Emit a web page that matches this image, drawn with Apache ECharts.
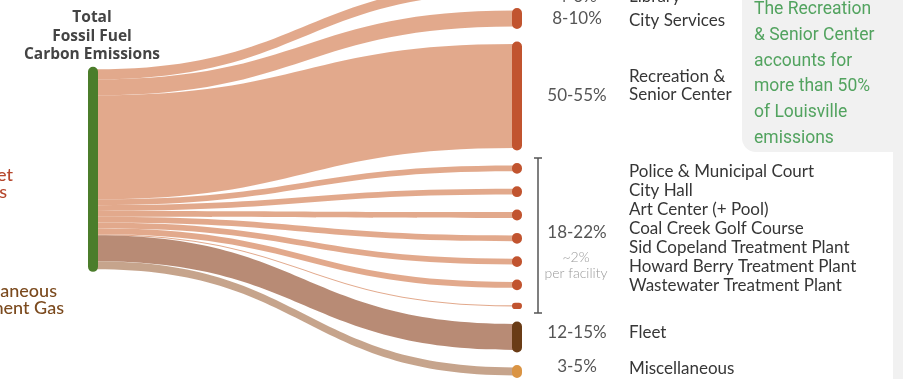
<!DOCTYPE html>
<html>
<head>
<meta charset="utf-8">
<script src="https://cdn.jsdelivr.net/npm/echarts@6/dist/echarts.min.js"></script>
<style>
  html, body { margin: 0; padding: 0; background: #ffffff; }
  #chart { width: 903px; height: 379px; }
</style>
</head>
<body>
<div id="chart"></div>
<script>
// Municipal fossil-fuel carbon emissions by facility (share of total, %)
const sourceName = 'Total Fossil Fuel Carbon Emissions';
const sourceLines = ['Total', 'Fossil Fuel', 'Carbon Emissions'];

const buildingNames = [
  'Library', 'City Services', 'Recreation & Senior Center',
  'Police & Municipal Court', 'City Hall', 'Art Center (+ Pool)',
  'Coal Creek Golf Course', 'Sid Copeland Treatment Plant',
  'Howard Berry Treatment Plant', 'Wastewater Treatment Plant'
];
const buildingShares = [5, 8, 52, 2.9, 2.9, 2.9, 2.9, 2.9, 2.9, 0.6];

const vehicleNames = ['Fleet', 'Miscellaneous'];
const vehicleShares = [13, 4];

const rangeLabels = ['4-6%', '8-10%', '50-55%', '18-22%', '12-15%', '3-5%'];
const perFacilityLines = ['~2%', 'per facility'];
const calloutLines = ['The Recreation', '& Senior Center', 'accounts for', 'more than 50%', 'of Louisville', 'emissions'];
const groupLines = [['Buildings & Street', 'Lights'], ['Fleet & Miscellaneous', 'Equipment Gas']];

// ---- styling ----
const GREEN = '#4b7d2b';
const BUILDING_NODE = '#c1542f';
const FLEET_NODE = '#6a3c16';
const MISC_NODE = '#da9444';
const BUILDING_LINK = '#e0a283';
const FLEET_LINK = '#b3826b';
const MISC_LINK = '#c29d83';

const LAYOUT_TOP = -17;
const LAYOUT_HEIGHT = 392.5;
const NODE_GAP = 17.5;
const SOURCE_LOCAL_Y = 0.22;   // source column sits a little above the band centre

function nodeStyle(c) { return { color: c, borderColor: c }; }

const nodes = [{ name: sourceName, itemStyle: nodeStyle(GREEN), localY: SOURCE_LOCAL_Y }];
buildingNames.forEach(n => nodes.push({ name: n, itemStyle: nodeStyle(BUILDING_NODE) }));
nodes.push({ name: vehicleNames[0], itemStyle: nodeStyle(FLEET_NODE) });
nodes.push({ name: vehicleNames[1], itemStyle: nodeStyle(MISC_NODE) });

const links = [];
buildingNames.forEach((n, i) => links.push({
  source: sourceName, target: n, value: buildingShares[i], lineStyle: { color: BUILDING_LINK }
}));
links.push({ source: sourceName, target: vehicleNames[0], value: vehicleShares[0], lineStyle: { color: FLEET_LINK } });
links.push({ source: sourceName, target: vehicleNames[1], value: vehicleShares[1], lineStyle: { color: MISC_LINK } });

// ---- annotation text ----
const NAME_FONT = '17px Lato, "Noto Sans", sans-serif';
const NAME_COLOR = '#363636';
const RANGE_FONT = '17px Lato, "Noto Sans", sans-serif';
const g = [];

function txt(text, x, y, font, fill, align) {
  g.push({ type: 'text', silent: true, style: {
    text, x, y, font, fill, align: align || 'left', verticalAlign: 'middle'
  }});
}

// callout panel
g.push({ type: 'rect', silent: true, shape: { x: 742, y: -20, width: 170, height: 172, r: [0, 0, 0, 14] }, style: { fill: '#f1f1f1' } });
g.push({ type: 'rect', silent: true, shape: { x: 893, y: 0, width: 12, height: 379 }, style: { fill: '#f1f1f1' } });
calloutLines.forEach((l, i) => txt(l, 754, 10 + i * 25.7, '17.5px Roboto, sans-serif', '#52a35f'));

// source title
sourceLines.forEach((l, i) => txt(l, 92, 18 + i * 18.5, 'bold 15.5px "Open Sans", sans-serif', '#444444', 'center'));

// left group labels (partly outside the frame)
const GROUP_FONT = '500 18px Lato, sans-serif';
txt(groupLines[0][0], 13, 175, GROUP_FONT, '#b5462c', 'right');
txt(groupLines[0][1], 7, 192, GROUP_FONT, '#b5462c', 'right');
txt(groupLines[1][0], 57, 291, GROUP_FONT, '#7b4a1e', 'right');
txt(groupLines[1][1], 64, 308, GROUP_FONT, '#7b4a1e', 'right');

// right-hand names
txt(buildingNames[0], 629, -3, NAME_FONT, NAME_COLOR);
txt(buildingNames[1], 629, 21, NAME_FONT, NAME_COLOR);
txt('Recreation &', 629, 77, NAME_FONT, NAME_COLOR);
txt('Senior Center', 629, 95, NAME_FONT, NAME_COLOR);
buildingNames.slice(3).forEach((n, i) => txt(n, 629, 172 + i * 19, NAME_FONT, NAME_COLOR));
txt(vehicleNames[0], 629, 333, NAME_FONT, NAME_COLOR);
txt(vehicleNames[1], 629, 369, NAME_FONT, NAME_COLOR);

// share ranges
const rangeY = [-3, 19, 96, 233, 333, 367];
rangeLabels.forEach((r, i) => txt(r, 577, rangeY[i], RANGE_FONT, '#555555', 'center'));
txt(perFacilityLines[0], 576, 257, '300 14px Lato, sans-serif', '#9a9a9a', 'center');
txt(perFacilityLines[1], 576, 273, '300 14px Lato, sans-serif', '#9a9a9a', 'center');

// bracket around the smaller facilities
const BR = { stroke: '#555555', lineWidth: 1.5 };
g.push({ type: 'line', silent: true, shape: { x1: 538, y1: 158, x2: 538, y2: 313 }, style: BR });
g.push({ type: 'line', silent: true, shape: { x1: 534, y1: 158, x2: 542, y2: 158 }, style: BR });
g.push({ type: 'line', silent: true, shape: { x1: 534, y1: 313, x2: 542, y2: 313 }, style: BR });

const chart = echarts.init(document.getElementById('chart'), null, { renderer: 'canvas' });
chart.setOption({
  backgroundColor: '#ffffff',
  animation: false,
  graphic: g,
  series: [{
    type: 'sankey',
    left: 90.5,
    right: 383.5,
    top: LAYOUT_TOP,
    bottom: 379 - (LAYOUT_TOP + LAYOUT_HEIGHT),
    nodeWidth: 5,
    nodeGap: NODE_GAP,
    layoutIterations: 0,
    draggable: false,
    z: 1,
    label: { show: false },
    emphasis: { disabled: true },
    itemStyle: { borderWidth: 5, borderRadius: 2.5 },
    lineStyle: { opacity: 0.93, curveness: 0.5 },
    data: nodes,
    links: links
  }]
});
</script>
</body>
</html>
